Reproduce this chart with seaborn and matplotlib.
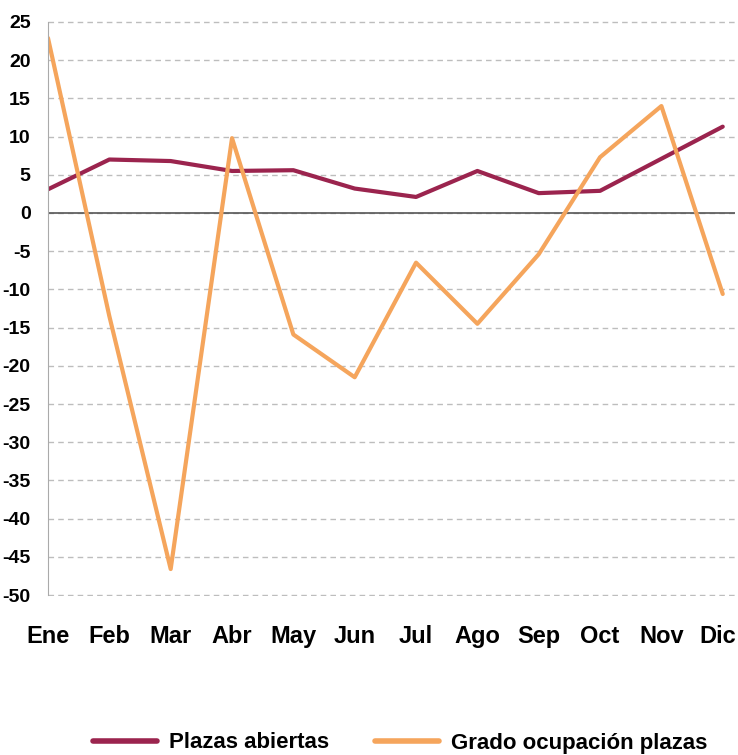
import matplotlib
matplotlib.use("Agg")
import matplotlib.pyplot as plt
import matplotlib.transforms as mtransforms
import seaborn as sns
import pandas as pd

meses = ["Ene", "Feb", "Mar", "Abr", "May", "Jun", "Jul", "Ago", "Sep", "Oct", "Nov", "Dic"]
plazas_abiertas = [3.1, 7.0, 6.8, 5.5, 5.6, 3.2, 2.1, 5.5, 2.6, 2.9, 7.1, 11.3]
grado_ocupacion = [22.9, -13.5, -46.6, 9.8, -15.9, -21.5, -6.5, -14.5, -5.4, 7.3, 14.0, -10.6]

df = pd.DataFrame({
    "mes": list(range(len(meses))) * 2,
    "valor": plazas_abiertas + grado_ocupacion,
    "serie": ["Plazas abiertas"] * 12 + ["Grado ocupación plazas"] * 12,
})

sns.set_style("white")
plt.rcParams["font.family"] = ["Liberation Sans", "DejaVu Sans"]
plt.rcParams["font.weight"] = "bold"
plt.rcParams["axes.unicode_minus"] = False

fig = plt.figure(figsize=(7.38, 7.55), dpi=100)
ax = fig.add_axes([48 / 738, 1 - 596 / 755, 687 / 738, 575 / 755])

colores = {"Plazas abiertas": "#9b244e", "Grado ocupación plazas": "#f5a55c"}
sns.lineplot(data=df, x="mes", y="valor", hue="serie", palette=colores, linewidth=3, ax=ax, legend=False)

ax.set_xlim(0, 11.2)
ax.set_ylim(-50.13, 25.13)
ax.set_yticks(range(-50, 26, 5))
ax.set_xticks(range(12))
ax.set_xticklabels(meses)
ax.yaxis.grid(True, linestyle=(0, (4, 3)), color="#bdbdbd", linewidth=1)
ax.axhline(0, color="#555555", linewidth=1.2, zorder=1)
for s in ["top", "right", "bottom"]:
    ax.spines[s].set_visible(False)
ax.spines["left"].set_color("#aaaaaa")
ax.spines["left"].set_bounds(-50, 25)
ax.tick_params(axis="y", length=9.5, color="#aaaaaa", width=1.5, labelsize=14, pad=3, labelcolor="black")
ax.tick_params(axis="x", length=0, labelsize=17, pad=21, labelcolor="black")
ax.set_xlabel("")
ax.set_ylabel("")

# la etiqueta "Dic" se corre un poco para que no se corte
ultima = ax.get_xticklabels()[-1]
ultima.set_transform(ultima.get_transform() + mtransforms.ScaledTranslation(-5 / 100, 0, fig.dpi_scale_trans))

# leyenda: dos entradas colocadas a mano
series = list(colores.keys())
for nombre, x0 in zip(series, [93 / 738, 375 / 738]):
    h = plt.Line2D([], [], color=colores[nombre], linewidth=4)
    fig.legend([h], [nombre], loc="center left", bbox_to_anchor=(x0, 1 - 743 / 755),
               frameon=False, fontsize=16, handlelength=2.9, handletextpad=0.5,
               borderpad=0, borderaxespad=0, labelcolor="black")

fig.savefig("out.png", dpi=100)
